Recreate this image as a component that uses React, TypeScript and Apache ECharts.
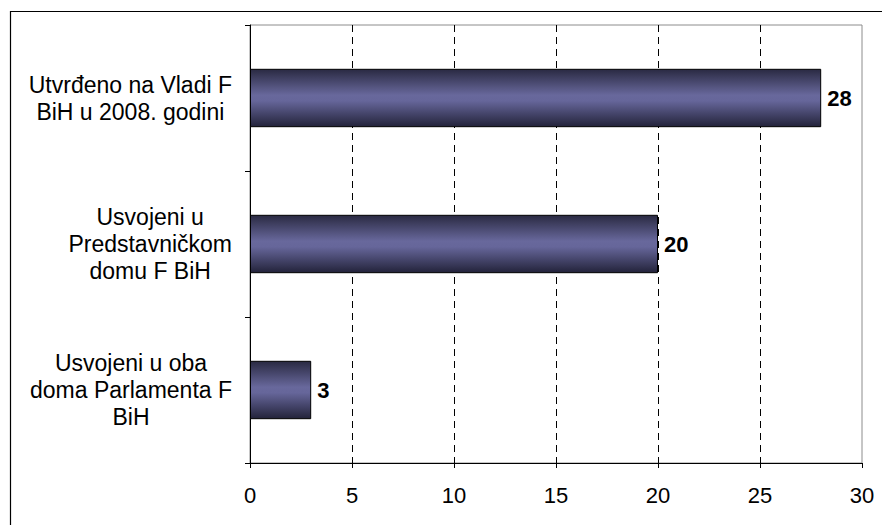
import React, { useEffect, useRef } from "react";
import * as echarts from "echarts";

const categories = [
  "Utvrđeno na Vladi F\nBiH u 2008. godini",
  "Usvojeni u\nPredstavničkom\ndomu F BiH",
  "Usvojeni u oba\ndoma Parlamenta F\nBiH",
];
const values = [28, 20, 3];
const xTicks = { min: 0, max: 30, interval: 5 };

const FONT = "'Liberation Sans', Arial, sans-serif";

export default function App() {
  const ref = useRef<HTMLDivElement>(null);
  useEffect(() => {
    if (!ref.current) return;
    const chart = echarts.init(ref.current, null, { renderer: "svg" });
    chart.setOption({
      animation: false,
      backgroundColor: "#ffffff",
      textStyle: { fontFamily: FONT },
      graphic: [
        {
          type: "rect",
          left: 8,
          top: 9,
          shape: { width: 1000, height: 1000 },
          style: { fill: "none", stroke: "#000", lineWidth: 1.2 },
          silent: true,
        },
      ],
      grid: {
        left: 250,
        right: 20,
        top: 25,
        bottom: 62,
        show: true,
        borderColor: "#8c8c8c",
        borderWidth: 1,
        backgroundColor: "transparent",
      },
      xAxis: {
        type: "value",
        min: xTicks.min,
        max: xTicks.max,
        interval: xTicks.interval,
        axisLine: { show: true, lineStyle: { color: "#000", width: 1 } },
        axisTick: { show: true, length: 5, inside: false, lineStyle: { color: "#000" } },
        axisLabel: { color: "#000", fontSize: 22, fontFamily: FONT, margin: 21 },
        splitLine: {
          show: true,
          showMinLine: false,
          showMaxLine: false,
          lineStyle: { color: "#000", width: 1, type: [7, 5] },
        },
      },
      yAxis: {
        type: "category",
        data: categories,
        inverse: true,
        axisLine: { show: true, lineStyle: { color: "#000", width: 1 } },
        axisTick: { show: true, length: 5, inside: false, lineStyle: { color: "#000" } },
        axisLabel: {
          color: "#000",
          fontSize: 23,
          fontFamily: FONT,
          margin: 18,
          align: "right",
          formatter: (v: string) =>
            v
              .split("\n")
              .map((l) => `{c|${l}}`)
              .join("\n"),
          rich: {
            c: {
              align: "center",
              fontSize: 23,
              fontWeight: "normal",
              fontFamily: FONT,
              color: "#000",
              lineHeight: 27,
            },
          },
        },
        splitLine: { show: false },
      },
      series: [
        {
          type: "bar",
          data: values,
          barWidth: "40%",
          itemStyle: {
            color: new echarts.graphic.LinearGradient(0, 0, 0, 1, [
              { offset: 0, color: "#2a2a42" },
              { offset: 0.45, color: "#68689c" },
              { offset: 0.55, color: "#66669a" },
              { offset: 1, color: "#23233a" },
            ]),
            borderColor: "#000",
            borderWidth: 1,
          },
          label: {
            show: true,
            position: "right",
            distance: 6,
            color: "#000",
            fontSize: 22,
            fontWeight: "bold",
            fontFamily: FONT,
          },
        },
      ],
    });
    return () => chart.dispose();
  }, []);
  return (
    <div
      ref={ref}
      style={{ position: "absolute", left: 0, top: 0, width: 882, height: 525 }}
    />
  );
}
